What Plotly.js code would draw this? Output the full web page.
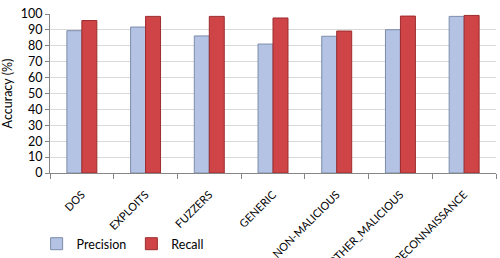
<!DOCTYPE html>
<html><head><meta charset="utf-8">
<script src="https://cdn.plot.ly/plotly-3.0.1.min.js"></script>
<style>body{margin:0;background:#fff}#c{width:500px;height:258px}</style>
</head><body><div id="c"></div>
<script>
const categories = ["DOS","EXPLOITS","FUZZERS","GENERIC","NON-MALICIOUS","OTHER_MALICIOUS","RECONNAISSANCE"];
const precision = [89.5, 91.8, 86.2, 81.1, 86.0, 90.1, 98.5];
const recall = [95.9, 98.5, 98.5, 97.5, 89.3, 98.7, 99.1];
const yTicks = [0,10,20,30,40,50,60,70,80,90,100];

const fam = "Lato, Open Sans, sans-serif";
const data = [
  {type:"bar", name:"Precision", x:categories, y:precision,
   marker:{color:"#b4c3e4", line:{color:"#7c8cab", width:1}}},
  {type:"bar", name:"Recall", x:categories, y:recall,
   marker:{color:"#cf4446", line:{color:"#9c2c2e", width:1}}}
];
const layout = {
  width:500, height:258,
  margin:{l:50, r:4, t:14, b:85, autoexpand:false},
  paper_bgcolor:"#fff", plot_bgcolor:"#fff",
  font:{family:fam, size:11, color:"#000"},
  barmode:"group", bargap:0.53, bargroupgap:0,
  showlegend:true,
  legend:{orientation:"h", x:-0.03, xanchor:"left", y:-0.447, yanchor:"middle",
          bgcolor:"rgba(0,0,0,0)", font:{family:fam, size:12.5}, tracegroupgap:0},
  xaxis:{type:"category", tickangle:-45, showline:true, linecolor:"#868686", linewidth:1,
         ticks:"outside", tickson:"boundaries", ticklen:5, tickcolor:"#868686",
         ticklabelstandoff:10,
         showgrid:false, automargin:false, tickfont:{family:fam, size:11}},
  yaxis:{range:[0,100], tickvals:yTicks, showline:true, linecolor:"#868686", linewidth:1,
         ticks:"outside", ticklen:4, tickcolor:"#868686",
         showgrid:true, gridcolor:"#d9d9d9", gridwidth:1, automargin:false,
         zeroline:false, tickfont:{family:fam, size:12.5},
         title:{text:"Accuracy (%)", font:{family:fam, size:12.5}, standoff:5}}
};
Plotly.newPlot("c", data, layout, {displayModeBar:false, staticPlot:true});
</script></body></html>
